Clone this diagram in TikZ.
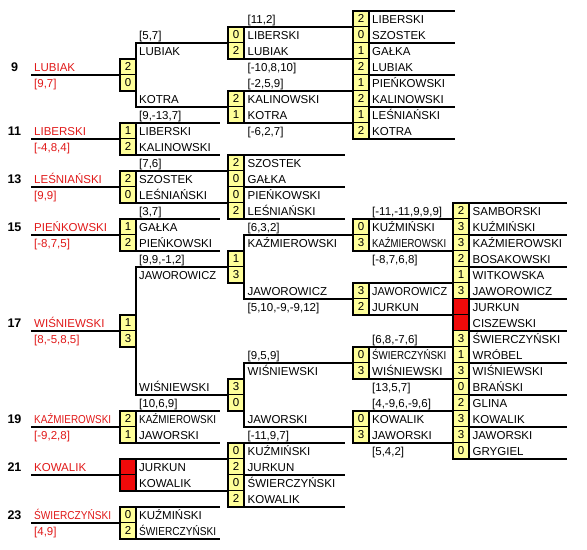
\documentclass[tikz,border=0pt]{standalone}
\usepackage{fontspec}
\setmainfont{Liberation Sans}
\definecolor{redtxt}{RGB}{225,25,25}
\definecolor{cellyel}{RGB}{255,255,153}
\definecolor{cellred}{RGB}{240,10,10}
\newsavebox\nmbox
\newcommand{\fitname}[2]{\sbox\nmbox{#2}\ifdim\wd\nmbox>#1pt\relax\pgfmathparse{#1/\wd\nmbox}\scalebox{\pgfmathresult}[1]{\usebox\nmbox}\else\usebox\nmbox\fi}
\newcounter{nn}
\tikzset{
 ln/.style={line width=2.2pt, black, line join=miter},
 txt/.style={anchor=base west, inner sep=0pt},
 sccell/.style={draw, line width=1.1pt, fill=cellyel, minimum width=16pt, minimum height=16pt, inner sep=0pt, text height=8.2pt, text depth=0pt},
 rdcell/.style={sccell, fill=cellred},
}
\newcommand{\Nm}[4]{\stepcounter{nn}\node[txt] (n\arabic{nn}) at (#1,#2+0.79) {\fitname{#3}{#4}};}
\newcommand{\Rn}[4]{\stepcounter{nn}\node[txt,text=redtxt] (n\arabic{nn}) at (#1,#2+0.79) {\fitname{#3}{#4}};}
\newcommand{\SC}[3]{\stepcounter{nn}\node[sccell] (n\arabic{nn}) at (#1+8,#2+0.5) {#3};}
\newcommand{\RC}[2]{\stepcounter{nn}\node[rdcell] (n\arabic{nn}) at (#1+8,#2+0.5) {};}
\newcommand{\BX}[3]{\draw[ln] (#1,#2) rectangle (#1+16,#3+1);}
\newcommand{\HL}[3]{\draw[ln] (#1,#3) -- (#2,#3);}
\newcommand{\Seed}[4]{\stepcounter{nn}\node[anchor=base,inner sep=0pt,font=\fontsize{12.5}{14}\selectfont\bfseries] (n\arabic{nn}) at (14.5,#1+0.82) {#2};\Rn{34}{#1}{77}{#3}\Rn{34}{#1+1}{77}{#4}\draw[ln] (31,#1+1) -- (120,#1+1);}
\begin{document}
\begin{tikzpicture}[x=1pt,y=-16pt,font=\fontsize{11.5}{13}\selectfont]
\useasboundingbox[fill=white] (0,-0.669) rectangle (587,33.644);
% ---------- lines ----------
% col1
\draw[ln] (228,2) -- (136,2) -- (136,6) -- (228,6);
\HL{120}{220}{7} \HL{120}{220}{9}
\HL{120}{228}{10} \HL{120}{228}{12}
\HL{120}{220}{13} \HL{120}{220}{15}
\draw[ln] (228,16) -- (136,16) -- (136,24) -- (228,24);
\HL{120}{220}{25} \HL{120}{220}{27}
\HL{120}{228}{28} \HL{120}{228}{30}
\HL{120}{220}{31} \HL{120}{220}{33}
% col2
\HL{228}{353}{1} \HL{228}{353}{3}
\HL{228}{353}{5} \HL{228}{353}{7}
\HL{228}{345}{9} \HL{228}{345}{11} \HL{228}{345}{13}
\draw[ln] (353,14) -- (244,14) -- (244,18) -- (353,18);
\draw[ln] (353,22) -- (244,22) -- (244,26) -- (353,26);
\HL{228}{345}{27} \HL{228}{345}{29} \HL{228}{345}{31}
% col3
\foreach \b in {0,2,4,6,8} {\HL{353}{455}{\b}}
\foreach \b in {13,15,17,19,21,23,25,27} {\HL{353}{453}{\b}}
% col4
\foreach \b in {12,14,...,28} {\HL{453}{567}{\b}}
% ---------- score cells ----------
% col1
\SC{120}{3}{2}\SC{120}{4}{0}\BX{120}{3}{4}
\SC{120}{7}{1}\SC{120}{8}{2}\BX{120}{7}{8}
\SC{120}{10}{2}\SC{120}{11}{0}\BX{120}{10}{11}
\SC{120}{13}{1}\SC{120}{14}{2}\BX{120}{13}{14}
\SC{120}{19}{1}\SC{120}{20}{3}\BX{120}{19}{20}
\SC{120}{25}{2}\SC{120}{26}{1}\BX{120}{25}{26}
\RC{120}{28}\RC{120}{29}\BX{120}{28}{29}
\SC{120}{31}{0}\SC{120}{32}{2}\BX{120}{31}{32}
% col2
\SC{228}{1}{0}\SC{228}{2}{2}\BX{228}{1}{2}
\SC{228}{5}{2}\SC{228}{6}{1}\BX{228}{5}{6}
\SC{228}{9}{2}\SC{228}{10}{0}\SC{228}{11}{0}\SC{228}{12}{2}\BX{228}{9}{12}
\SC{228}{15}{1}\SC{228}{16}{3}\BX{228}{15}{16}
\SC{228}{23}{3}\SC{228}{24}{0}\BX{228}{23}{24}
\SC{228}{27}{0}\SC{228}{28}{2}\SC{228}{29}{0}\SC{228}{30}{2}\BX{228}{27}{30}
% col3
\SC{353}{0}{2}\SC{353}{1}{0}\SC{353}{2}{1}\SC{353}{3}{2}\SC{353}{4}{1}\SC{353}{5}{2}\SC{353}{6}{1}\SC{353}{7}{2}\BX{353}{0}{7}
\SC{353}{13}{0}\SC{353}{14}{3}\BX{353}{13}{14}
\SC{353}{17}{3}\SC{353}{18}{2}\BX{353}{17}{18}
\SC{353}{21}{0}\SC{353}{22}{3}\BX{353}{21}{22}
\SC{353}{25}{0}\SC{353}{26}{3}\BX{353}{25}{26}
% col4
\SC{453}{12}{2}\SC{453}{13}{3}\SC{453}{14}{3}\SC{453}{15}{2}\SC{453}{16}{1}\SC{453}{17}{3}
\RC{453}{18}\RC{453}{19}
\SC{453}{20}{3}\SC{453}{21}{1}\SC{453}{22}{3}\SC{453}{23}{0}\SC{453}{24}{2}\SC{453}{25}{3}\SC{453}{26}{3}\SC{453}{27}{0}
\BX{453}{12}{27}
% ---------- seeds ----------
\Seed{3}{9}{LUBIAK}{[9,7]}
\Seed{7}{11}{LIBERSKI}{[-4,8,4]}
\Seed{10}{13}{LEŚNIAŃSKI}{[9,9]}
\Seed{13}{15}{PIEŃKOWSKI}{[-8,7,5]}
\Seed{19}{17}{WIŚNIEWSKI}{[8,-5,8,5]}
\Seed{25}{19}{KAŹMIEROWSKI}{[-9,2,8]}
\Seed{28}{21}{KOWALIK}{}
\Seed{31}{23}{ŚWIERCZYŃSKI}{[4,9]}
% ---------- col1 texts ----------
\Nm{139}{1}{90}{[5,7]}
\Nm{139}{2}{77}{LUBIAK}
\Nm{139}{5}{77}{KOTRA}
\Nm{139}{6}{90}{[9,-13,7]}
\Nm{139}{7}{77}{LIBERSKI}
\Nm{139}{8}{77}{KALINOWSKI}
\Nm{139}{9}{90}{[7,6]}
\Nm{139}{10}{77}{SZOSTEK}
\Nm{139}{11}{77}{LEŚNIAŃSKI}
\Nm{139}{12}{90}{[3,7]}
\Nm{139}{13}{77}{GAŁKA}
\Nm{139}{14}{77}{PIEŃKOWSKI}
\Nm{139}{15}{90}{[9,9,-1,2]}
\Nm{139}{16}{77}{JAWOROWICZ}
\Nm{139}{23}{77}{WIŚNIEWSKI}
\Nm{139}{24}{90}{[10,6,9]}
\Nm{139}{25}{77}{KAŹMIEROWSKI}
\Nm{139}{26}{77}{JAWORSKI}
\Nm{139}{28}{77}{JURKUN}
\Nm{139}{29}{77}{KOWALIK}
\Nm{139}{31}{77}{KUŹMIŃSKI}
\Nm{139}{32}{77}{ŚWIERCZYŃSKI}
% ---------- col2 texts ----------
\Nm{247.5}{0}{100}{[11,2]}
\Nm{247.5}{1}{95}{LIBERSKI}
\Nm{247.5}{2}{95}{LUBIAK}
\Nm{247.5}{3}{100}{[-10,8,10]}
\Nm{247.5}{4}{100}{[-2,5,9]}
\Nm{247.5}{5}{95}{KALINOWSKI}
\Nm{247.5}{6}{95}{KOTRA}
\Nm{247.5}{7}{100}{[-6,2,7]}
\Nm{247.5}{9}{95}{SZOSTEK}
\Nm{247.5}{10}{95}{GAŁKA}
\Nm{247.5}{11}{95}{PIEŃKOWSKI}
\Nm{247.5}{12}{95}{LEŚNIAŃSKI}
\Nm{247.5}{13}{100}{[6,3,2]}
\Nm{247.5}{14}{95}{KAŹMIEROWSKI}
\Nm{247.5}{17}{95}{JAWOROWICZ}
\Nm{247.5}{18}{100}{[5,10,-9,-9,12]}
\Nm{247.5}{21}{100}{[9,5,9]}
\Nm{247.5}{22}{95}{WIŚNIEWSKI}
\Nm{247.5}{25}{95}{JAWORSKI}
\Nm{247.5}{26}{100}{[-11,9,7]}
\Nm{247.5}{27}{95}{KUŹMIŃSKI}
\Nm{247.5}{28}{95}{JURKUN}
\Nm{247.5}{29}{95}{ŚWIERCZYŃSKI}
\Nm{247.5}{30}{95}{KOWALIK}
% ---------- col3 texts ----------
\Nm{372}{0}{80}{LIBERSKI}
\Nm{372}{1}{80}{SZOSTEK}
\Nm{372}{2}{80}{GAŁKA}
\Nm{372}{3}{80}{LUBIAK}
\Nm{372}{4}{80}{PIEŃKOWSKI}
\Nm{372}{5}{80}{KALINOWSKI}
\Nm{372}{6}{80}{LEŚNIAŃSKI}
\Nm{372}{7}{80}{KOTRA}
\Nm{372}{12}{80}{[-11,-11,9,9,9]}
\Nm{372}{13}{74}{KUŹMIŃSKI}
\Nm{372}{14}{74}{KAŹMIEROWSKI}
\Nm{372}{15}{80}{[-8,7,6,8]}
\Nm{372}{17}{75}{JAWOROWICZ}
\Nm{372}{18}{74}{JURKUN}
\Nm{372}{20}{80}{[6,8,-7,6]}
\Nm{372}{21}{74}{ŚWIERCZYŃSKI}
\Nm{372}{22}{74}{WIŚNIEWSKI}
\Nm{372}{23}{80}{[13,5,7]}
\Nm{372}{24}{80}{[4,-9,6,-9,6]}
\Nm{372}{25}{74}{KOWALIK}
\Nm{372}{26}{74}{JAWORSKI}
\Nm{372}{27}{80}{[5,4,2]}
% ---------- col4 texts ----------
\Nm{472.5}{12}{92}{SAMBORSKI}
\Nm{472.5}{13}{92}{KUŹMIŃSKI}
\Nm{472.5}{14}{92}{KAŹMIEROWSKI}
\Nm{472.5}{15}{92}{BOSAKOWSKI}
\Nm{472.5}{16}{92}{WITKOWSKA}
\Nm{472.5}{17}{92}{JAWOROWICZ}
\Nm{472.5}{18}{92}{JURKUN}
\Nm{472.5}{19}{92}{CISZEWSKI}
\Nm{472.5}{20}{92}{ŚWIERCZYŃSKI}
\Nm{472.5}{21}{92}{WRÓBEL}
\Nm{472.5}{22}{92}{WIŚNIEWSKI}
\Nm{472.5}{23}{92}{BRAŃSKI}
\Nm{472.5}{24}{92}{GLINA}
\Nm{472.5}{25}{92}{KOWALIK}
\Nm{472.5}{26}{92}{JAWORSKI}
\Nm{472.5}{27}{92}{GRYGIEL}
\end{tikzpicture}
\end{document}
